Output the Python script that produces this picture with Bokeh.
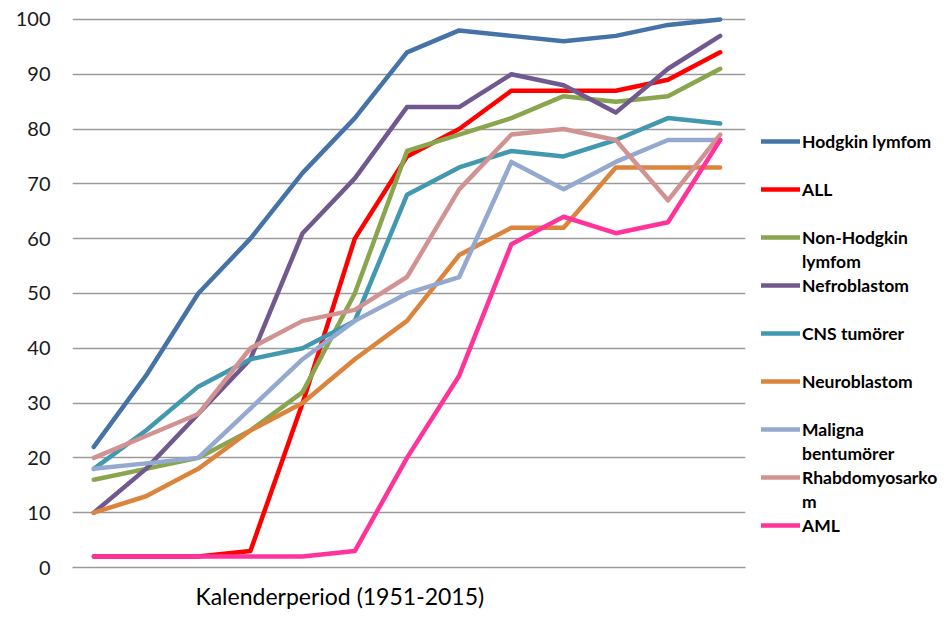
from bokeh.plotting import figure
from bokeh.models import (Range1d, FixedTicker, Legend, LegendItem, Title)
from bokeh.embed import file_html
from bokeh.resources import INLINE

# ---- data ----
periods = ["1951-55", "1956-60", "1961-65", "1966-70", "1971-75", "1976-80",
           "1981-85", "1986-90", "1991-95", "1996-00", "2001-05", "2006-10", "2011-15"]
hodgkin = [22, 35, 50, 60, 72, 82, 94, 98, 97, 96, 97, 99, 100]
all_leuk = [2, 2, 2, 3, 30, 60, 75, 80, 87, 87, 87, 89, 94]
nhl = [16, 18, 20, 25, 32, 50, 76, 79, 82, 86, 85, 86, 91]
nefroblastom = [10, 18, 28, 38, 61, 71, 84, 84, 90, 88, 83, 91, 97]
cns = [18, 25, 33, 38, 40, 45, 68, 73, 76, 75, 78, 82, 81]
neuroblastom = [10, 13, 18, 25, 30, 38, 45, 57, 62, 62, 73, 73, 73]
maligna = [18, 19, 20, 29, 38, 45, 50, 53, 74, 69, 74, 78, 78]
rhabdo = [20, 24, 28, 40, 45, 47, 53, 69, 79, 80, 78, 67, 79]
aml = [2, 2, 2, 2, 2, 3, 20, 35, 59, 64, 61, 63, 78]

series_names = ["Hodgkin lymfom", "ALL", "Non-Hodgkin\nlymfom", "Nefroblastom",
                "CNS tumörer", "Neuroblastom", "Maligna\nbentumörer",
                "Rhabdomyosarko\nm", "AML"]
series_values = [hodgkin, all_leuk, nhl, nefroblastom, cns, neuroblastom,
                 maligna, rhabdo, aml]
series_colors = ["#4572A7", "#FF0000", "#89A54E", "#71588F", "#4198AF",
                 "#DB843D", "#93A9CF", "#D19392", "#FF3399"]
y_ticks = list(range(0, 101, 10))
x_title = "Kalenderperiod (1951-2015)"

x = list(range(len(periods)))

FONT = "Lato"

p = figure(frame_width=673, frame_height=553,
           min_border_left=72, min_border_right=190,
           min_border_top=14, min_border_bottom=10,
           x_range=Range1d(-0.408, 12.485), y_range=Range1d(0, 100.9),
           output_backend="svg", toolbar_location=None)
p.outline_line_color = None
p.background_fill_color = "white"
p.border_fill_color = "white"

# grid
p.xgrid.grid_line_color = None
p.ygrid.ticker = FixedTicker(ticks=y_ticks)
p.ygrid.grid_line_color = "#9A9A9A"
p.ygrid.grid_line_width = 1.3

# y axis
p.yaxis.ticker = FixedTicker(ticks=y_ticks)
p.yaxis.axis_line_color = None
p.yaxis.major_tick_line_color = None
p.yaxis.minor_tick_line_color = None
p.yaxis.major_tick_out = 0
p.yaxis.major_label_standoff = 22
p.yaxis.major_label_text_font = FONT
p.yaxis.major_label_text_font_size = "20px"
p.yaxis.major_label_text_color = "#1a1a1a"

# x axis (no tick labels in the reference)
p.xaxis.ticker = FixedTicker(ticks=[])
p.xaxis.axis_line_color = "#9A9A9A"
p.xaxis.axis_line_width = 1.3
p.xaxis.major_tick_line_color = None
p.xaxis.minor_tick_line_color = None
p.xaxis.major_tick_out = 0
p.xaxis.major_label_standoff = 0
p.xaxis.major_label_text_font_size = "0px"

renderers = []
for name, vals, col in zip(series_names, series_values, series_colors):
    r = p.line(x, vals, line_color=col, line_width=4.5,
               line_join="round", line_cap="round")
    renderers.append(r)

# an empty, transparent renderer for the wrapped second lines of legend texts
blank = p.line(x=[], y=[], line_alpha=0)

# legend: every entry takes two 24px rows (Excel-like wrapping)
items = []
for i, (name, r) in enumerate(zip(series_names, renderers)):
    parts = name.split("\n")
    items.append(LegendItem(label=parts[0], renderers=[r]))
    if len(parts) > 1:
        items.append(LegendItem(label=parts[1], renderers=[blank]))
    elif i < len(series_names) - 1:
        items.append(LegendItem(label=" ", renderers=[blank]))

row = 24
legend_top = 129
legend_bottom = legend_top + row * len(items)
legend = Legend(items=items,
                location=(16, 567 - legend_bottom),
                glyph_width=39, glyph_height=row, label_height=row,
                label_standoff=2, padding=0, margin=0, spacing=0,
                border_line_color=None, background_fill_alpha=0,
                label_text_font=FONT, label_text_font_size="17.5px",
                label_text_font_style="bold", label_text_color="black")
p.add_layout(legend, "right")

p.add_layout(Title(text=x_title, align="left", offset=123, standoff=24,
                   text_font=FONT, text_font_size="23px",
                   text_font_style="normal", text_color="black"), "below")

open("out.html", "w").write(file_html(p, INLINE))
